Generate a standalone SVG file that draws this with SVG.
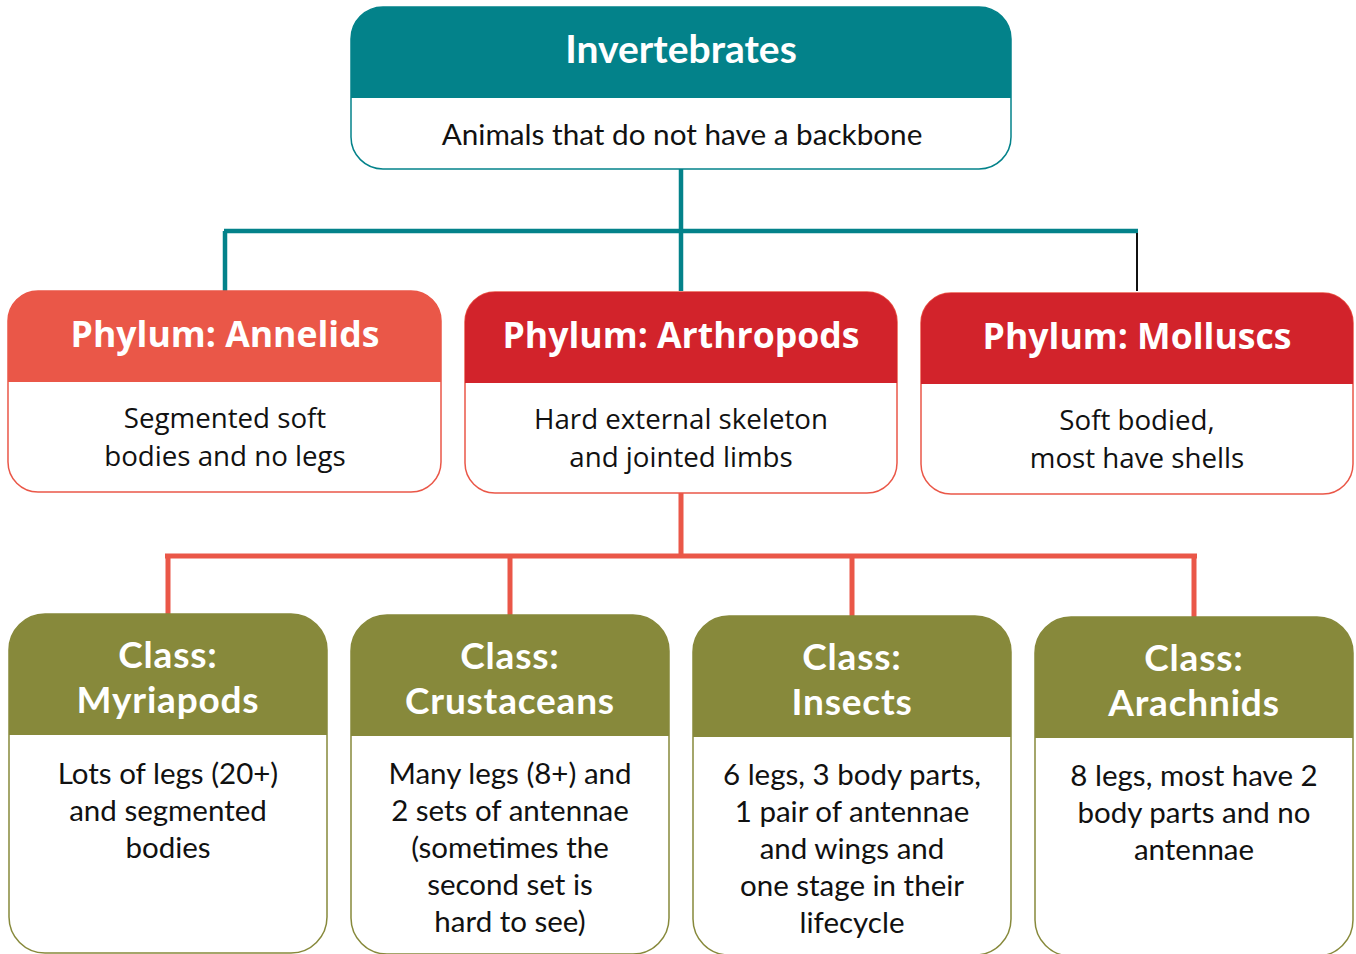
<svg xmlns="http://www.w3.org/2000/svg" width="1356" height="954" viewBox="0 0 1356 954">
<style>
.box{fill:#fff;stroke-width:1.5}
.teal{fill:#03828A}
.coral{fill:#EA5748}
.red{fill:#D2232B}
.olive{fill:#87893B}
.hdr1{font-family:Lato,"Liberation Sans",sans-serif;font-weight:bold;font-size:39px;fill:#fff;text-anchor:middle}
.sub1{font-family:Lato,"Liberation Sans",sans-serif;font-size:29.7px;fill:#111;text-anchor:middle}
.hdr2{font-family:"Open Sans","Noto Sans",sans-serif;font-weight:bold;font-size:35.6px;fill:#fff;text-anchor:middle}
.sub2{font-family:"Open Sans","Noto Sans",sans-serif;font-size:27.7px;fill:#111;text-anchor:middle}
.hdr3{font-family:Lato,"Liberation Sans",sans-serif;font-weight:bold;font-size:37px;letter-spacing:0.8px;fill:#fff;text-anchor:middle}
.sub3{font-family:Lato,"Liberation Sans",sans-serif;font-size:29.5px;fill:#111;text-anchor:middle}
</style>
<rect width="1356" height="954" fill="#fff"/>
<g id="connectors" fill="none">
<path d="M681,169 V291 M224,231 H1138 M225,231 V291" stroke="#03828A" stroke-width="4.5"/>
<path d="M1137,233 V291" stroke="#111" stroke-width="2"/>
<path d="M681,493 V556 M165,556 H1197 M168,556 V614 M510,556 V615 M852,556 V616 M1194,556 V617" stroke="#EA5748" stroke-width="5"/>
</g>
<g id="invertebrates">
<rect class="box" x="351" y="7" width="660" height="162" rx="32" stroke="#03828A"/>
<path class="teal" d="M351,98 V39 A32,32 0 0 1 383,7 H979 A32,32 0 0 1 1011,39 V98 Z"/>
<text class="hdr1" x="681" y="63">Invertebrates</text>
<text class="sub1" x="682" y="145">Animals that do not have a backbone</text>
</g>
<g id="annelids">
<rect class="box" x="8" y="291" width="433" height="201" rx="30" stroke="#EA5748"/>
<path class="coral" d="M8,382 V321 A30,30 0 0 1 38,291 H411 A30,30 0 0 1 441,321 V382 Z"/>
<text class="hdr2" x="225" y="347">Phylum: Annelids</text>
<text class="sub2" x="225" y="428">Segmented soft</text>
<text class="sub2" x="225" y="466">bodies and no legs</text>
</g>
<g id="arthropods">
<rect class="box" x="465" y="292" width="432" height="201" rx="30" stroke="#EA5748"/>
<path class="red" d="M465,383 V322 A30,30 0 0 1 495,292 H867 A30,30 0 0 1 897,322 V383 Z"/>
<text class="hdr2" x="681" y="348">Phylum: Arthropods</text>
<text class="sub2" x="681" y="429">Hard external skeleton</text>
<text class="sub2" x="681" y="467">and jointed limbs</text>
</g>
<g id="molluscs">
<rect class="box" x="921" y="293" width="432" height="201" rx="30" stroke="#EA5748"/>
<path class="red" d="M921,384 V323 A30,30 0 0 1 951,293 H1323 A30,30 0 0 1 1353,323 V384 Z"/>
<text class="hdr2" x="1137" y="349">Phylum: Molluscs</text>
<text class="sub2" x="1137" y="430">Soft bodied,</text>
<text class="sub2" x="1137" y="468">most have shells</text>
</g>
<g id="myriapods">
<rect class="box" x="9" y="614" width="318" height="339" rx="36" stroke="#87893B"/>
<path class="olive" d="M9,735 V650 A36,36 0 0 1 45,614 H291 A36,36 0 0 1 327,650 V735 Z"/>
<text class="hdr3" x="168" y="668">Class:</text>
<text class="hdr3" x="168" y="712.5">Myriapods</text>
<text class="sub3" x="168" y="784">Lots of legs (20+)<tspan x="168" dy="37">and segmented</tspan><tspan x="168" dy="37">bodies</tspan></text>
</g>
<g id="crustaceans">
<rect class="box" x="351" y="615" width="318" height="339" rx="36" stroke="#87893B"/>
<path class="olive" d="M351,736 V651 A36,36 0 0 1 387,615 H633 A36,36 0 0 1 669,651 V736 Z"/>
<text class="hdr3" x="510" y="669">Class:</text>
<text class="hdr3" x="510" y="713.5">Crustaceans</text>
<text class="sub3" x="510" y="784">Many legs (8+) and<tspan x="510" dy="37">2 sets of antennae</tspan><tspan x="510" dy="37">(sometimes the</tspan><tspan x="510" dy="37">second set is</tspan><tspan x="510" dy="37">hard to see)</tspan></text>
</g>
<g id="insects">
<rect class="box" x="693" y="616" width="318" height="339" rx="36" stroke="#87893B"/>
<path class="olive" d="M693,737 V652 A36,36 0 0 1 729,616 H975 A36,36 0 0 1 1011,652 V737 Z"/>
<text class="hdr3" x="852" y="670">Class:</text>
<text class="hdr3" x="852" y="714.5">Insects</text>
<text class="sub3" x="852" y="785">6 legs, 3 body parts,<tspan x="852" dy="37">1 pair of antennae</tspan><tspan x="852" dy="37">and wings and</tspan><tspan x="852" dy="37">one stage in their</tspan><tspan x="852" dy="37">lifecycle</tspan></text>
</g>
<g id="arachnids">
<rect class="box" x="1035" y="617" width="318" height="339" rx="36" stroke="#87893B"/>
<path class="olive" d="M1035,738 V653 A36,36 0 0 1 1071,617 H1317 A36,36 0 0 1 1353,653 V738 Z"/>
<text class="hdr3" x="1194" y="671">Class:</text>
<text class="hdr3" x="1194" y="715.5">Arachnids</text>
<text class="sub3" x="1194" y="786">8 legs, most have 2<tspan x="1194" dy="37">body parts and no</tspan><tspan x="1194" dy="37">antennae</tspan></text>
</g>
</svg>
